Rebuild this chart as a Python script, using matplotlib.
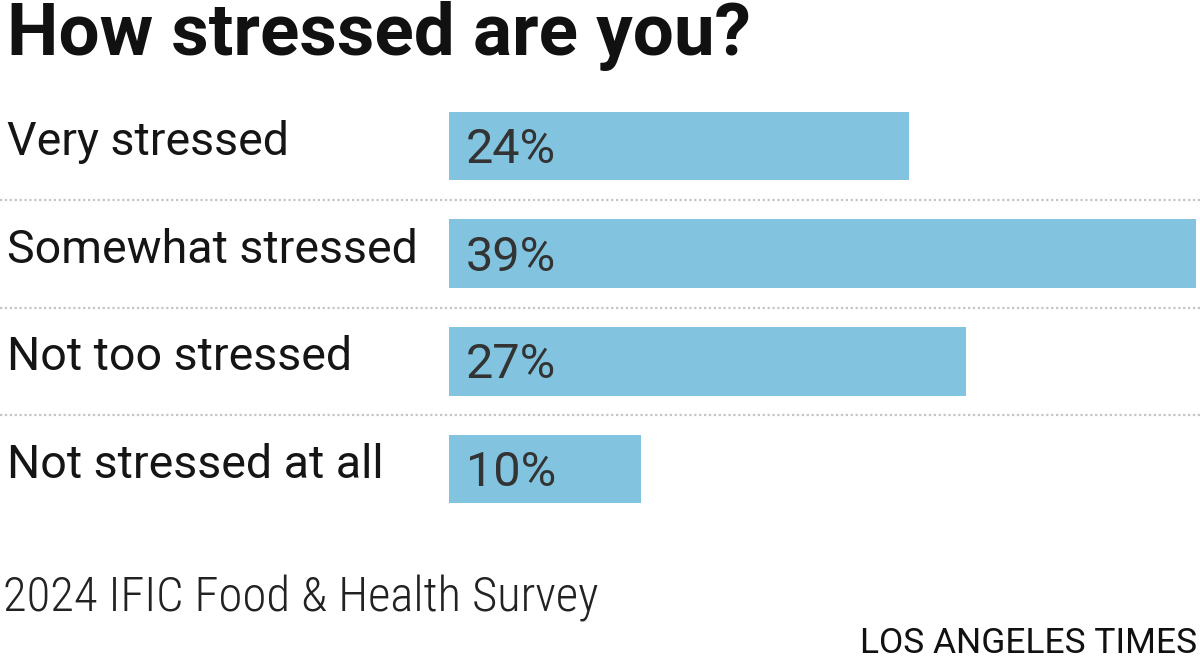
import matplotlib.pyplot as plt
import matplotlib.transforms as mtransforms
from matplotlib import font_manager

# data
categories = ["Very stressed", "Somewhat stressed", "Not too stressed", "Not stressed at all"]
values = [24, 39, 27, 10]
labels = ["24%", "39%", "27%", "10%"]

names = set(f.name for f in font_manager.fontManager.ttflist)
main_font = "Roboto" if "Roboto" in names else "DejaVu Sans"
narrow_font = main_font
for cand in ["Roboto Condensed", "Liberation Sans Narrow"]:
    if cand in names:
        narrow_font = cand
        break

W, H = 1200, 671
fig = plt.figure(figsize=(12, 6.71), dpi=100)
fig.patch.set_facecolor("white")

px_per_pct = 19.15
x0 = 449
ax = fig.add_axes([0, (H - 523) / H, 1, 431 / H])
ax.set_xlim(-x0 / px_per_pct, (W - x0) / px_per_pct)
ax.set_ylim(3.5, -0.5)
ax.axis("off")

ypos = list(range(len(categories)))
ax.barh(ypos, values, height=0.635, color="#82c4e0", left=0)

# category labels: figure x, data y
trans = mtransforms.blended_transform_factory(fig.transFigure, ax.transData)
for i, (cat, lab) in enumerate(zip(categories, labels)):
    ax.text(0.89, i + 0.158, lab, fontsize=35, color="#333333",
            family=main_font, va="baseline", ha="left")
    fig.text(7 / W, i + 0.084, cat, fontsize=33.5, color="#151515", family=main_font,
             va="baseline", ha="left", transform=trans)

# dotted separators
for i in range(len(categories) - 1):
    ax.plot([0, 1], [i + 0.5, i + 0.5], transform=trans, color="#c4c4c4",
            lw=1.6, linestyle=(0, (1, 1.2)), clip_on=False)

fig.text(7 / W, 1 - 55 / H, "How stressed are you?", fontsize=52.5, fontweight="bold",
         color="#111111", family=main_font, va="baseline", ha="left")
fig.text(3 / W, 1 - 612 / H, "2024 IFIC Food & Health Survey", fontsize=35,
         color="#222222", family=narrow_font, fontweight="light",
         va="baseline", ha="left")
fig.text(1197 / W, 1 - 653 / H, "LOS ANGELES TIMES", fontsize=25.5,
         color="#111111", family=main_font, va="baseline", ha="right")

fig.savefig("out.png", dpi=100, facecolor="white")
